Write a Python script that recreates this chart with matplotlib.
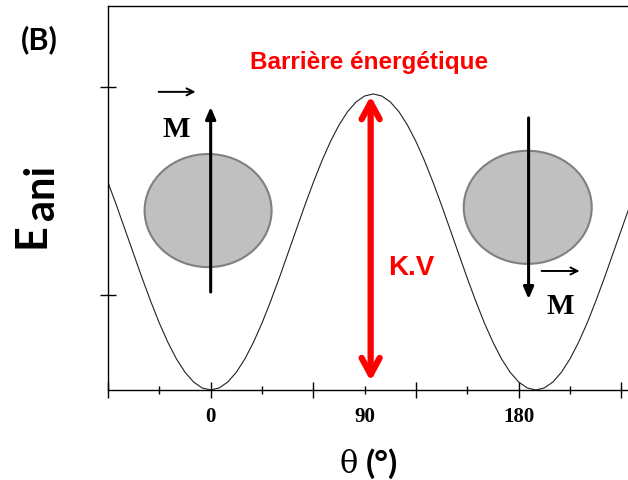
import matplotlib
matplotlib.use("Agg")
import matplotlib.pyplot as plt
from matplotlib.patches import Ellipse

# anisotropy energy curve (theta in degrees, normalised energy)
theta = [-60, -55, -50, -45, -40, -35, -30, -25, -20, -15, -10, -5,
         0, 5, 10, 15, 20, 25, 30, 35, 40, 45, 50, 55,
         60, 65, 70, 75, 80, 85, 90, 95, 100, 105, 110, 115,
         120, 125, 130, 135, 140, 145, 150, 155, 160, 165, 170, 175,
         180, 185, 190, 195, 200, 205, 210, 215, 220, 225, 230, 235,
         240, 245]
energy = [0.701, 0.623, 0.541, 0.459, 0.377, 0.299, 0.226, 0.161, 0.105, 0.060, 0.027, 0.007,
          0.000, 0.007, 0.027, 0.060, 0.105, 0.161, 0.226, 0.299, 0.377, 0.459, 0.541, 0.623,
          0.701, 0.774, 0.839, 0.895, 0.940, 0.973, 0.993, 1.000, 0.993, 0.973, 0.940, 0.895,
          0.839, 0.774, 0.701, 0.623, 0.541, 0.459, 0.377, 0.299, 0.226, 0.161, 0.105, 0.060,
          0.027, 0.007, 0.000, 0.007, 0.027, 0.060, 0.105, 0.161, 0.226, 0.299, 0.377, 0.459,
          0.541, 0.623]

major_ticks = [-60, 0, 60, 120, 180, 240]
major_labels = ["", "0", "", "", "180", ""]
minor_ticks = [-30, 30, 90, 150, 210]
minor_labels = ["", "", "90", "", ""]
y_ticks = [0.321, 1.024]

fig = plt.figure(figsize=(6.28, 4.81), dpi=100)
ax = fig.add_axes([108 / 628, 90 / 481, 1 - 108 / 628, 384 / 481])

ax.plot(theta, energy, color="#222222", lw=0.8)
ax.set_xlim(-60, 243.9)
ax.set_ylim(0, 1.297)
ax.spines["right"].set_visible(False)
for s in ax.spines.values():
    s.set_linewidth(1.0)

ax.set_xticks(major_ticks, labels=major_labels)
ax.set_xticks(minor_ticks, labels=minor_labels, minor=True)
ax.set_yticks(y_ticks, labels=["", ""])
ax.tick_params(axis="x", which="major", direction="inout", length=11, width=1, pad=6)
ax.tick_params(axis="x", which="minor", direction="inout", length=6, width=1, pad=8.5)
ax.tick_params(axis="y", direction="inout", length=12, width=1)
for lab in ax.get_xticklabels(which="both"):
    lab.set_fontfamily("Liberation Serif")
    lab.set_fontweight("bold")
    lab.set_fontsize(15)

# particles
ax.add_patch(Ellipse((-1.5, 0.606), 74.2, 0.382, facecolor="#c0c0c0",
                     edgecolor="#808080", lw=1.5, zorder=3))
ax.add_patch(Ellipse((185.3, 0.617), 74.8, 0.382, facecolor="#c0c0c0",
                     edgecolor="#808080", lw=1.5, zorder=3))

# magnetisation arrows
arrow_kw = dict(arrowstyle="-|>,head_length=0.7,head_width=0.3", color="black",
                lw=2.2, shrinkA=0, shrinkB=0)
ax.annotate("", xy=(0, 0.956), xytext=(0, 0.331), arrowprops=arrow_kw, zorder=4)
ax.annotate("", xy=(185.8, 0.307), xytext=(185.8, 0.919), arrowprops=arrow_kw, zorder=4)

vec_kw = dict(arrowstyle="->,head_length=0.5,head_width=0.25", color="black",
              lw=1.4, shrinkA=0, shrinkB=0)
ax.annotate("", xy=(-8.8, 1.007), xytext=(-30.4, 1.007), arrowprops=vec_kw)
ax.annotate("", xy=(215.6, 0.402), xytext=(193.4, 0.402), arrowprops=vec_kw)
ax.text(-19.9, 0.858, "M", fontfamily="Liberation Serif", fontweight="bold",
        fontsize=21, ha="center", va="baseline")
ax.text(204.5, 0.260, "M", fontfamily="Liberation Serif", fontweight="bold",
        fontsize=21, ha="center", va="baseline")

# energy barrier
ax.annotate("", xy=(93.5, 0.993), xytext=(93.5, 0.030),
            arrowprops=dict(arrowstyle="<->,head_length=1.2,head_width=0.65",
                            color="red", lw=4.5, shrinkA=0, shrinkB=0,
                            capstyle="round", joinstyle="round"))
ax.text(92.3, 1.111, "Barrière énergétique", color="red", fontfamily="Liberation Sans",
        fontweight="bold", fontsize=17.5, ha="center", va="center")
ax.text(117.5, 0.416, "K.V", color="red", fontfamily="Liberation Sans",
        fontweight="bold", fontsize=20, ha="center", va="center")

# labels
fig.text(39 / 628, 1 - 40 / 481, "(B)", fontfamily="Lato", fontweight="bold",
         fontsize=22, ha="center", va="center")
fig.text(51 / 628, 1 - 248 / 481, "E", fontfamily="Lato", fontweight="bold",
         fontsize=31, rotation=90, ha="right", va="bottom")
fig.text(61 / 628, 1 - 220 / 481, "ani", fontfamily="Lato", fontweight="bold",
         fontsize=30, rotation=90, ha="right", va="bottom")
fig.text(349 / 628, 1 - 473 / 481, "θ", fontfamily="DejaVu Serif",
         fontsize=22, ha="center", va="baseline")
fig.text(382 / 628, 1 - 474 / 481, "(°)", fontfamily="Lato", fontweight="bold",
         fontsize=24, ha="center", va="baseline")

fig.savefig("out.png", dpi=100)
